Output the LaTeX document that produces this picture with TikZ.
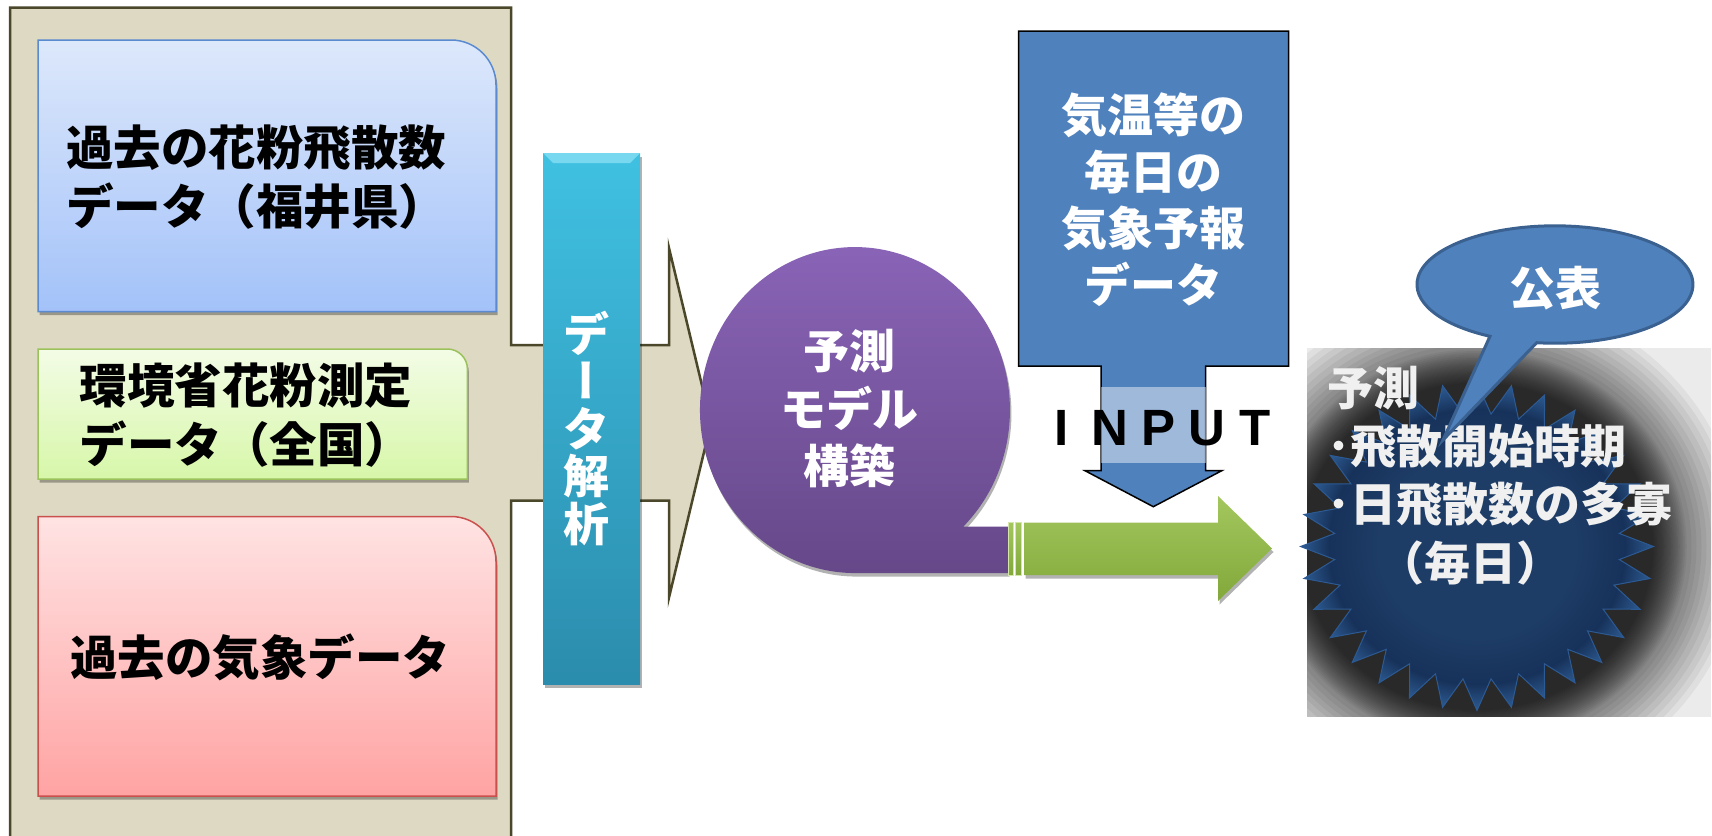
\documentclass[tikz,border=0pt]{standalone}
\usepackage{fontspec}
\setmainfont{Noto Sans CJK JP}
\newfontfamily\latinbold{Liberation Sans}
\usetikzlibrary{shadows}
\definecolor{panelbg}{HTML}{DDD9C3}
\definecolor{panelline}{HTML}{4B472B}
\definecolor{blueA}{HTML}{DDE8FB}
\definecolor{blueB}{HTML}{A3C2F9}
\definecolor{blueL}{HTML}{5A8AD0}
\definecolor{greenA}{HTML}{F3FCE6}
\definecolor{greenB}{HTML}{D7F7A9}
\definecolor{greenL}{HTML}{9BC25A}
\definecolor{redA}{HTML}{FFE3E3}
\definecolor{redB}{HTML}{FFA3A3}
\definecolor{redL}{HTML}{C9504D}
\definecolor{cyanA}{HTML}{40C1E2}
\definecolor{cyanB}{HTML}{2B8CAD}
\definecolor{cyanHi}{HTML}{8FE3F5}
\definecolor{purA}{HTML}{8B65B9}
\definecolor{purB}{HTML}{664889}
\definecolor{grA}{HTML}{A3C75D}
\definecolor{grB}{HTML}{82A83B}
\definecolor{grL}{HTML}{D4E6A8}
\definecolor{calloutblue}{HTML}{4F81BD}
\definecolor{bubbleEdge}{HTML}{3A6190}
\definecolor{starA}{HTML}{1D3C66}
\definecolor{starB}{HTML}{17325A}
\definecolor{starC}{HTML}{2D5B92}
\definecolor{starEdge}{HTML}{2C5A94}
\definecolor{startext}{HTML}{F0F0F0}
\pgfdeclareradialshading{starshade}{\pgfpoint{0bp}{0bp}}{color(0bp)=(starA); color(14bp)=(starA); color(21bp)=(starB); color(25bp)=(starC); color(50bp)=(starC)}
\begin{document}
\begin{tikzpicture}[x=1pt,y=-1pt,
  jp/.style={font=\fontsize{46}{58}\selectfont\bfseries, inner sep=0pt, align=center},
  jpbig/.style={jp, font=\fontsize{47.5}{58.5}\selectfont\bfseries},
  shadowed/.style={drop shadow={shadow xshift=1.5pt, shadow yshift=-3.5pt, opacity=0.3, fill=black}},
  panel/.style={fill=panelbg, draw=panelline, line width=2.5pt, line join=miter},
  whitetext/.style={text=white}]
\path[fill=white] (0,0) rectangle (1712,835);
\useasboundingbox (0,0) rectangle (1712,835);
\clip (0,0) rectangle (1712,835);

% left panel with the big notched arrow
\draw[panel] (10,7.5) -- (511,7.5) -- (511,345) -- (669,345) -- (669,248) -- (711,423)
  -- (669,597.5) -- (669,500.5) -- (511,500.5) -- (511,850) -- (10,850) -- cycle;

% three data boxes
\path[shadowed, top color=blueA, bottom color=blueB, draw=blueL, line width=1.5pt]
  (38,311.5) -- (38,40) -- (451,40) .. controls (475.8,40) and (496,60.2) .. (496,85) -- (496,311.5) -- cycle;
\path[shadowed, top color=greenA, bottom color=greenB, draw=greenL, line width=1.5pt]
  (38,479) -- (38,349) -- (447.4,349) .. controls (458.4,349) and (467.4,358) .. (467.4,369) -- (467.4,479) -- cycle;
\path[shadowed, top color=redA, bottom color=redB, draw=redL, line width=1.5pt]
  (38,796) -- (38,516.5) -- (451,516.5) .. controls (475.8,516.5) and (496,536.7) .. (496,561.5) -- (496,796) -- cycle;
\node[jpbig] (past) at (256,177) {過去の花粉飛散数\\データ（福井県）};
\node[jpbig] (moe) at (246,415) {環境省花粉測定\\データ（全国）};
\node[jpbig] (met) at (260,657.6) {過去の気象データ};

% data analysis bar
\path[shadowed, top color=cyanA, bottom color=cyanB] (543,153) rectangle (640,684);
\fill[cyanHi, opacity=0.7] (543,153) -- (640,153) -- (630,163) -- (553,163) -- cycle;
\node[jp, whitetext, font=\fontsize{46}{47.5}\selectfont\bfseries] (ana) at (586,428)
  {デ\\{\addfontfeature{RawFeature=+vert}ー}\\タ\\解\\析};

% prediction model (magnetic tape shape)
\path[shadowed, top color=purA, bottom color=purB]
  (855,573) -- (1008,573) -- (1008,526.7) -- (963.2,526.7)
  arc[start angle=45.7, end angle=-270, x radius=155, y radius=163] -- cycle;
\node[jp, whitetext, font=\fontsize{46}{57.5}\selectfont\bfseries] (model) at (849,409) {予測\\モデル\\構築};

% striped green arrow
\path[top color=grA, bottom color=grB, draw=grL, line width=0.8pt] (1008.3,522.7) rectangle (1013.3,575);
\path[top color=grA, bottom color=grB, draw=grL, line width=0.8pt] (1015,522.7) rectangle (1021.7,575);
\path[shadowed, top color=grA, bottom color=grB]
  (1024,522.7) -- (1218,522.7) -- (1218,496) -- (1272,548.5) -- (1218,601) -- (1218,575) -- (1024,575) -- cycle;

% forecast data callout (down arrow)
\path[fill=calloutblue, draw=black, line width=1.5pt]
  (1018.6,31) -- (1288.6,31) -- (1288.6,366) -- (1205.7,366) -- (1205.7,470.7) -- (1221.7,470.7)
  -- (1153.3,506.7) -- (1085,470.7) -- (1101,470.7) -- (1101,366) -- (1018.6,366) -- cycle;
\fill[white, opacity=0.45] (1101,386.7) rectangle (1205.7,463.3);
\node[jp, whitetext, font=\fontsize{46}{56.7}\selectfont\bfseries] (fcst) at (1153,199.7)
  {気温等の\\毎日の\\気象予報\\データ};
\node[anchor=base, inner sep=0pt, font={\latinbold\fontsize{51}{51}\selectfont\bfseries}] (inp) at (1158.5,445.5)
  {\makebox[48.5pt]{I}\makebox[48.5pt]{N}\makebox[48.5pt]{P}\makebox[48.5pt]{U}\makebox[48.5pt]{T}};

% glow behind the seal
\begin{scope}
  \clip (1307,348) rectangle (1711,716.7);
  \fill[black!8] (1307,348) rectangle (1711,716.7);
  \foreach \d in {0,1.75,...,33.25,38,43,...,58,64,70,...,88}
    \fill[black, opacity=0.05] (1477,546.5) ellipse [x radius=176.5+\d, y radius=164+\d];
\end{scope}

% seal
\path[shading=starshade, draw=starEdge, line width=1pt]
  plot[samples at={0,...,63}, variable=\t]
  ({1477+(159.75+16.75*cos(\t*180))*cos(90+\t*5.625)}, {546.5-(148.5+15.5*cos(\t*180))*sin(90+\t*5.625)}) -- cycle;
\node[jp, align=left, anchor=west, text=startext, font=\fontsize{46}{58.3}\selectfont\bfseries] (pred) at (1327,475.5)
  {予測\\･飛散開始時期\\･日飛散数の多寡\\\hspace*{51pt}（毎日）};

% publication bubble
\path[fill=calloutblue, draw=bubbleEdge, line width=3pt]
  (1536.7,342.7) arc[start angle=97.6, end angle=-241.9, x radius=138, y radius=58.7] -- (1443,440) -- cycle;
\node[jp, whitetext] (pub) at (1555,288.3) {公表};
\end{tikzpicture}
\end{document}
